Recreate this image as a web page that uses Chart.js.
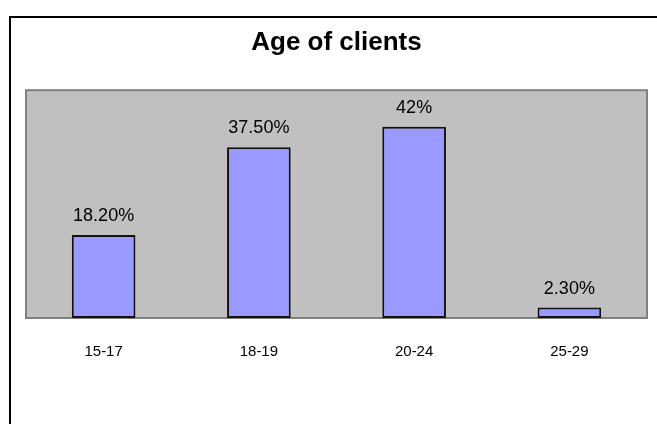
<!DOCTYPE html>
<html>
<head>
<meta charset="utf-8">
<script src="https://cdn.jsdelivr.net/npm/chart.js@4"></script>
<style>
  html, body { margin: 0; padding: 0; background: #fff; }
  canvas { display: block; }
</style>
</head>
<body>
<canvas id="chart" width="657" height="424"></canvas>
<script>
// Data
const ageGroups = ['15-17', '18-19', '20-24', '25-29'];
const clientShares = [18.2, 37.5, 42, 2.3];
const shareLabels = ['18.20%', '37.50%', '42%', '2.30%'];

// outer frame + grey plot area, drawn before the bars
const backdrop = {
    id: 'backdrop',
    beforeDraw(chart) {
        const ctx = chart.ctx;
        const a = chart.chartArea;
        ctx.save();
        ctx.fillStyle = '#000';
        ctx.fillRect(9, 16, 648, 2);
        ctx.fillRect(9, 16, 2, 408);
        ctx.fillStyle = '#c0c0c0';
        ctx.fillRect(a.left, a.top, a.right - a.left, a.bottom - a.top);
        ctx.strokeStyle = '#808080';
        ctx.lineWidth = 2;
        ctx.strokeRect(a.left, a.top, a.right - a.left, a.bottom - a.top);
        ctx.restore();
    }
};

// percentage labels above each bar
const valueLabels = {
    id: 'valueLabels',
    afterDatasetsDraw(chart) {
        const ctx = chart.ctx;
        const meta = chart.getDatasetMeta(0);
        ctx.save();
        ctx.font = '18px "Liberation Sans", Arial, sans-serif';
        ctx.fillStyle = '#000';
        ctx.textAlign = 'center';
        ctx.textBaseline = 'alphabetic';
        meta.data.forEach((bar, i) => {
            ctx.fillText(shareLabels[i], bar.x, bar.y - 14);
        });
        ctx.restore();
    }
};

new Chart(document.getElementById('chart').getContext('2d'), {
    type: 'bar',
    data: {
        labels: ageGroups,
        datasets: [{
            data: clientShares,
            backgroundColor: '#9999ff',
            borderColor: '#111111',
            borderWidth: 2,
            borderSkipped: false,
            categoryPercentage: 1,
            barPercentage: 0.41
        }]
    },
    options: {
        responsive: false,
        animation: false,
        layout: { padding: { left: 26, right: 10, top: 0, bottom: 0 } },
        plugins: {
            legend: { display: false },
            tooltip: { enabled: false },
            title: {
                display: true,
                text: 'Age of clients',
                color: '#000',
                font: { family: '"Liberation Sans", Arial, sans-serif', size: 26, weight: 'bold' },
                padding: { top: 27, bottom: 32 }
            }
        },
        scales: {
            y: { display: false, min: 0, max: 50 },
            x: {
                grid: { display: false, drawTicks: false },
                border: { display: false },
                ticks: {
                    color: '#000',
                    padding: 25,
                    font: { family: '"Liberation Sans", Arial, sans-serif', size: 15 }
                },
                afterFit(scale) { scale.height = 106; }
            }
        }
    },
    plugins: [backdrop, valueLabels]
});
</script>
</body>
</html>
